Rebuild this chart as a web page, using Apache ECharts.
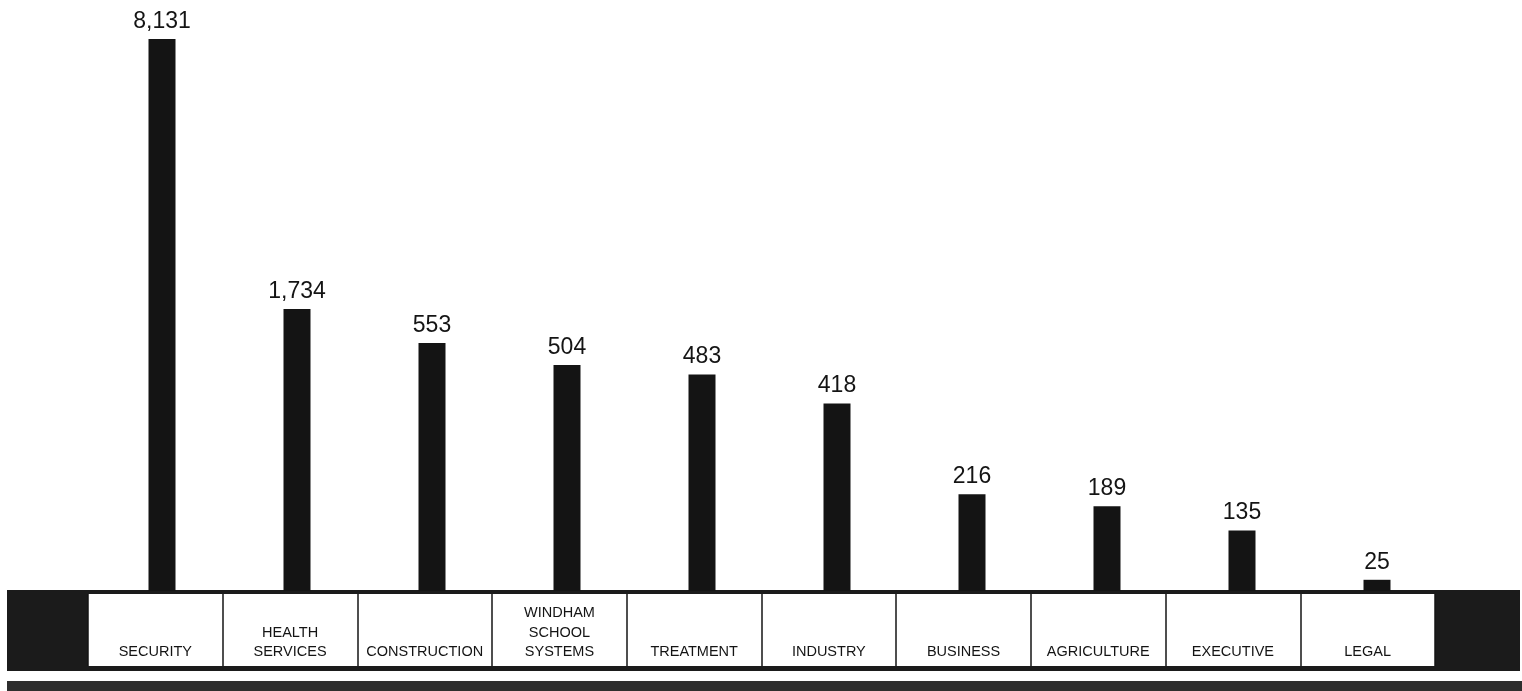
<!DOCTYPE html>
<html>
<head>
<meta charset="utf-8">
<title>Employees by Division</title>
<script src="https://cdn.jsdelivr.net/npm/echarts@6/dist/echarts.min.js"></script>
<style>
  html, body { margin: 0; padding: 0; background: #ffffff; }
  #chart { width: 1522px; height: 691px; }
</style>
</head>
<body>
<div id="chart"></div>
<script>
// Divisions, in the order they are drawn left to right
const categories = [
  'SECURITY',
  'HEALTH\nSERVICES',
  'CONSTRUCTION',
  'WINDHAM\nSCHOOL\nSYSTEMS',
  'TREATMENT',
  'INDUSTRY',
  'BUSINESS',
  'AGRICULTURE',
  'EXECUTIVE',
  'LEGAL'
];

// Employees per division
const employees = [8131, 1734, 553, 504, 483, 418, 216, 189, 135, 25];

// Value-axis breaks: compress the empty stretches above the small divisions
const valueBreaks = [
  { start: 570, end: 1700, gap: 25 },
  { start: 1770, end: 8100, gap: 535 }
];

const FONT = '"Liberation Sans", Arial, Helvetica, sans-serif';
const INK = '#141414';

const chart = echarts.init(document.getElementById('chart'), null, { renderer: 'canvas' });

chart.setOption({
  animation: false,
  backgroundColor: '#ffffff',
  graphic: {
    elements: [
      // dark band behind the division labels
      {
        type: 'rect', z: -10, silent: true,
        shape: { x: 7, y: 590, width: 1513, height: 81 },
        style: { fill: '#1b1b1b' }
      },
      // dark strip along the bottom edge
      {
        type: 'rect', z: -10, silent: true,
        shape: { x: 7, y: 681, width: 1515, height: 10 },
        style: { fill: '#2e2e2e' }
      }
    ]
  },
  grid: [
    // bars
    { left: 94.5, right: 77.5, top: 39, bottom: 100, containLabel: false },
    // label boxes
    {
      left: 88, right: 87, top: 594, bottom: 25, containLabel: false,
      show: true, backgroundColor: '#ffffff', borderWidth: 0
    }
  ],
  xAxis: [
    {
      type: 'category', gridIndex: 0, data: categories,
      boundaryGap: true,
      axisLine: { show: false }, axisTick: { show: false },
      axisLabel: { show: false }, splitLine: { show: false }
    },
    {
      type: 'category', gridIndex: 1, data: categories,
      position: 'bottom', boundaryGap: true,
      axisLine: { show: false }, axisTick: { show: false },
      splitLine: { show: true, interval: 0, lineStyle: { color: INK, width: 1.5 } },
      axisLabel: {
        show: true, interval: 0, inside: true, margin: 4,
        color: INK, fontFamily: FONT, fontSize: 14.5, lineHeight: 19.5,
        align: 'center'
      }
    }
  ],
  yAxis: [
    {
      type: 'value', gridIndex: 0, min: 0, max: 8131,
      show: false,
      breaks: valueBreaks,
      breakArea: { show: false },
      splitLine: { show: false }
    },
    {
      type: 'value', gridIndex: 1, show: false, min: 0, max: 1
    }
  ],
  series: [
    {
      type: 'bar',
      xAxisIndex: 0, yAxisIndex: 0,
      data: employees,
      barWidth: 27,
      itemStyle: { color: INK },
      label: {
        show: true, position: 'top', distance: 6,
        color: INK, fontFamily: FONT, fontSize: 23,
        formatter: p => p.value.toLocaleString('en-US')
      }
    }
  ]
});
</script>
</body>
</html>
